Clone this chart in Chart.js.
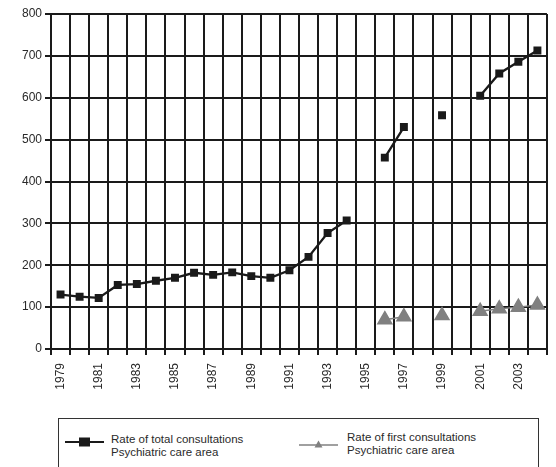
<!DOCTYPE html>
<html>
<head>
<meta charset="utf-8">
<script src="https://cdn.jsdelivr.net/npm/chart.js@4/dist/chart.umd.min.js"></script>
<style>
  html, body { margin: 0; padding: 0; background: #fff; width: 556px; height: 467px; overflow: hidden; }
  #wrap { position: absolute; left: 0; top: 0; width: 560px; height: 400px; }
  #legendBox { position: absolute; left: 58px; top: 418px; width: 481px; height: 80px; border: 1.5px solid #333; box-sizing: border-box; }
  .legText { position: absolute; font-family: "Liberation Sans", Arial, sans-serif; font-size: 11.5px; line-height: 12.5px; color: #2a2a2a; white-space: nowrap; }
  .legMark { position: absolute; }
</style>
</head>
<body>
<div id="wrap"><canvas id="chart"></canvas></div>

<div id="legendBox"></div>
<svg class="legMark" style="left:65px;top:436px" width="40" height="12">
  <line x1="0" y1="6" x2="39" y2="6" stroke="#1a1a1a" stroke-width="2"/>
  <rect x="14" y="1.5" width="11" height="9" fill="#1a1a1a"/>
</svg>
<div class="legText" style="left:111px;top:433px">Rate of total consultations<br>Psychiatric care area</div>
<svg class="legMark" style="left:299px;top:439px" width="40" height="12">
  <line x1="0" y1="6" x2="39" y2="6" stroke="#808080" stroke-width="1.5"/>
  <polygon points="19.5,1.5 23.5,8.5 15.5,8.5" fill="#808080"/>
</svg>
<div class="legText" style="left:347px;top:431px">Rate of first consultations<br>Psychiatric care area</div>

<script>
// Years on the category axis
const years = ['1979','1980','1981','1982','1983','1984','1985','1986','1987','1988','1989',
  '1990','1991','1992','1993','1994','1995','1996','1997','1998','1999','2000','2001','2002','2003','2004'];

// Rate of total consultations, psychiatric care area (null = no data that year)
const totalConsultations = [130,125,122,153,155,163,170,182,177,183,174,170,188,220,277,307,
  null,457,530,null,558,null,605,658,686,713];

// Rate of first consultations, psychiatric care area
const firstConsultations = [null,null,null,null,null,null,null,null,null,null,null,null,null,null,null,null,
  null,70,77,null,80,null,90,96,100,105];

// Y axis ticks
const yTicks = [0,100,200,300,400,500,600,700,800];

const gridColor = '#1a1a1a';
const tickFont = { family: '"Liberation Sans", Arial, sans-serif', size: 12 };

// Column separators between years, drawn under the data series
const columnLines = {
  id: 'columnLines',
  beforeDatasetsDraw(chart) {
    const x = chart.scales.x;
    const y = chart.scales.y;
    const ctx = chart.ctx;
    const half = (x.getPixelForValue(1) - x.getPixelForValue(0)) / 2;
    ctx.save();
    ctx.strokeStyle = gridColor;
    ctx.lineWidth = 2;
    ctx.beginPath();
    for (let i = 0; i < years.length; i++) {
      const px = Math.round(x.getPixelForValue(i) + half);
      ctx.moveTo(px, y.getPixelForValue(yTicks[yTicks.length - 1]));
      ctx.lineTo(px, y.getPixelForValue(yTicks[0]));
    }
    ctx.stroke();
    ctx.restore();
  }
};

new Chart(document.getElementById('chart'), {
  type: 'line',
  data: {
    labels: years,
    datasets: [
      {
        label: 'Rate of total consultations Psychiatric care area',
        data: totalConsultations,
        borderColor: '#1a1a1a',
        backgroundColor: '#1a1a1a',
        borderWidth: 2.3,
        pointStyle: 'rect',
        pointRadius: 4,
        pointHoverRadius: 4,
        spanGaps: false,
        tension: 0
      },
      {
        label: 'Rate of first consultations Psychiatric care area',
        data: firstConsultations,
        borderColor: '#808080',
        backgroundColor: '#808080',
        borderWidth: 1.5,
        pointStyle: 'triangle',
        pointRadius: 8,
        pointHoverRadius: 8,
        spanGaps: false,
        tension: 0
      }
    ]
  },
  plugins: [columnLines],
  options: {
    responsive: true,
    maintainAspectRatio: false,
    animation: false,
    devicePixelRatio: 1,
    layout: { padding: { top: 14, left: 0, right: 0, bottom: 0 } },
    plugins: { legend: { display: false }, tooltip: { enabled: false } },
    scales: {
      x: {
        offset: true,
        grid: { offset: true, drawOnChartArea: false, color: gridColor, lineWidth: 2, tickLength: 6, tickColor: gridColor, tickWidth: 2 },
        border: { display: true, color: gridColor, width: 2 },
        ticks: {
          autoSkip: false,
          maxRotation: 90,
          minRotation: 90,
          padding: 8,
          color: '#2a2a2a',
          font: tickFont,
          callback: (v, i) => (i % 2 === 0 ? years[i] : '')
        },
        afterFit: (s) => { s.height = 51; }
      },
      y: {
        min: 0,
        max: 800,
        afterBuildTicks: (s) => { s.ticks = yTicks.map(v => ({ value: v })); },
        grid: { color: gridColor, lineWidth: 2, tickLength: 6, tickColor: gridColor, tickWidth: 2 },
        border: { display: true, color: gridColor, width: 2 },
        ticks: { padding: 3, color: '#2a2a2a', font: tickFont },
        afterFit: (s) => { s.width = 51; }
      }
    }
  }
});
</script>
</body>
</html>
